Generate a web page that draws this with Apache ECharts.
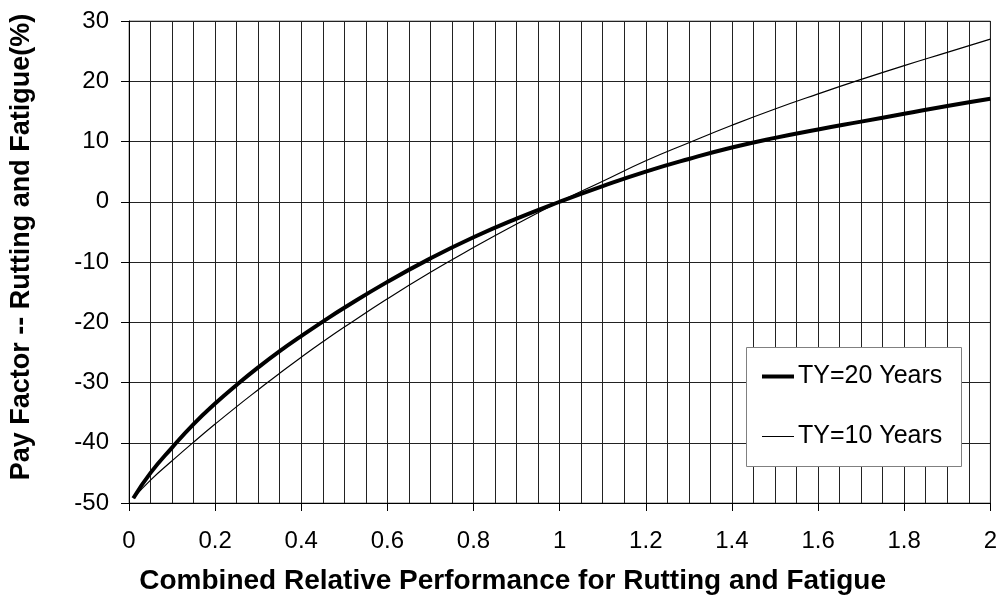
<!DOCTYPE html>
<html>
<head>
<meta charset="utf-8">
<script src="https://cdn.jsdelivr.net/npm/echarts@6/dist/echarts.min.js"></script>
<style>html,body{margin:0;padding:0;background:#fff;}#c{width:1000px;height:600px;}</style>
</head>
<body>
<div id="c"></div>
<script>
const xValues = [0.01, 0.05, 0.1, 0.15, 0.2, 0.25, 0.3, 0.35, 0.4, 0.45, 0.5, 0.6, 0.7, 0.8, 0.9, 1.0, 1.1, 1.2, 1.3, 1.4, 1.5, 1.6, 1.7, 1.8, 1.9, 2.0];
const ty20 = [-49.2, -45.0, -40.8, -36.9, -33.5, -30.4, -27.5, -24.8, -22.3, -19.9, -17.6, -13.3, -9.4, -5.9, -2.8, 0, 2.6, 5.0, 7.1, 9.0, 10.6, 12.0, 13.3, 14.6, 15.9, 17.1];
const ty10 = [-49.2, -46.2, -43.0, -39.9, -36.9, -34.0, -31.2, -28.45, -25.8, -23.25, -20.8, -16.1, -11.7, -7.6, -3.7, 0, 3.4, 6.8, 9.8, 12.7, 15.4, 17.9, 20.3, 22.6, 24.8, 27.0];
const seriesNames = ['TY=20 Years', 'TY=10 Years'];
const xTitle = 'Combined Relative Performance for Rutting and Fatigue';
const yTitle = 'Pay Factor -- Rutting and Fatigue(%)';

const font = '"Liberation Sans", Arial, sans-serif';
const chart = echarts.init(document.getElementById('c'), null, {renderer: 'canvas'});
chart.setOption({
  animation: false,
  backgroundColor: '#fff',
  grid: {left: 128, right: 9, top: 21, bottom: 94, show: true, borderColor: '#808080', borderWidth: 1},
  xAxis: {
    type: 'value', min: 0, max: 2, interval: 0.2,
    name: xTitle, nameLocation: 'middle', nameGap: 64,
    nameTextStyle: {fontFamily: font, fontSize: 28, fontWeight: 'bold', color: '#000', padding: [0, 94, 0, 0]},
    axisLine: {show: true, onZero: false, lineStyle: {color: '#000', width: 1}},
    axisTick: {show: true, inside: false, length: 8, lineStyle: {color: '#000'}},
    minorTick: {show: false, splitNumber: 4},
    axisLabel: {fontFamily: font, fontSize: 24, color: '#000', margin: 26,
      formatter: v => String(Math.round(v * 10) / 10)},
    splitLine: {show: true, lineStyle: {color: '#222', width: 1}},
    minorSplitLine: {show: true, lineStyle: {color: '#222', width: 1}}
  },
  yAxis: {
    type: 'value', min: -50, max: 30, interval: 10,
    name: yTitle, nameLocation: 'middle', nameGap: 94, nameRotate: 90,
    nameTextStyle: {fontFamily: font, fontSize: 27, fontWeight: 'bold', color: '#000', padding: [0, 0, 0, 30]},
    axisLine: {show: true, onZero: false, lineStyle: {color: '#000', width: 1}},
    axisTick: {show: true, inside: false, length: 8, lineStyle: {color: '#000'}},
    axisLabel: {fontFamily: font, fontSize: 24, color: '#000', margin: 20},
    splitLine: {show: true, lineStyle: {color: '#222', width: 1}}
  },
  graphic: [{
    type: 'rect', z: 3, left: 746, top: 347,
    shape: {width: 215, height: 119},
    style: {fill: '#fff', stroke: '#808080', lineWidth: 1}
  }],
  legend: {
    orient: 'vertical', left: 762, top: 364, z: 5,
    padding: 0, itemGap: 35, itemWidth: 32, itemHeight: 25,
    textStyle: {fontFamily: font, fontSize: 25, color: '#000', padding: [0, 0, 0, -1]},
    data: [
      {name: seriesNames[0], icon: 'path://M0,0 L32,0 L32,4 L0,4 Z', itemStyle: {color: '#000'}},
      {name: seriesNames[1], icon: 'path://M0,0 L32,0 L32,1 L0,1 Z', itemStyle: {color: '#000'}}
    ]
  },
  series: [
    {name: seriesNames[0], type: 'line', smooth: true, symbol: 'none', z: 2,
      lineStyle: {color: '#000', width: 4}, itemStyle: {color: '#000'},
      data: xValues.map((x, i) => [x, ty20[i]])},
    {name: seriesNames[1], type: 'line', smooth: true, symbol: 'none', z: 2,
      lineStyle: {color: '#000', width: 1.2}, itemStyle: {color: '#000'},
      data: xValues.map((x, i) => [x, ty10[i]])}
  ]
});
</script>
</body>
</html>
